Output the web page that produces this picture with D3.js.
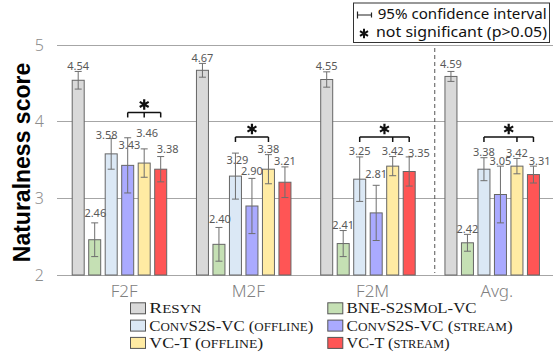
<!DOCTYPE html>
<html>
<head>
<meta charset="utf-8">
<script src="https://cdn.jsdelivr.net/npm/d3@7/dist/d3.min.js"></script>
<style>
  html, body { margin: 0; padding: 0; background: #fff; }
  svg { display: block; }
</style>
</head>
<body>
<svg id="chart" width="553" height="354"></svg>
<script>
// ---------------- data ----------------
const groups = ["F2F", "M2F", "F2M", "Avg."];
const seriesNames = ["Resyn", "BNE-S2SMoL-VC", "ConvS2S-VC (offline)", "ConvS2S-VC (stream)", "VC-T (offline)", "VC-T (stream)"];

const resyn       = [4.54, 4.67, 4.55, 4.59];
const bne         = [2.46, 2.40, 2.41, 2.42];
const convOffline = [3.58, 3.29, 3.25, 3.38];
const convStream  = [3.43, 2.90, 2.81, 3.05];
const vctOffline  = [3.46, 3.38, 3.42, 3.42];
const vctStream   = [3.38, 3.21, 3.35, 3.31];

// 95% confidence interval half widths
const resynCI       = [0.115, 0.09, 0.10, 0.065];
const bneCI         = [0.22, 0.22, 0.17, 0.11];
const convOfflineCI = [0.20, 0.30, 0.29, 0.15];
const convStreamCI  = [0.36, 0.36, 0.36, 0.37];
const vctOfflineCI  = [0.185, 0.19, 0.125, 0.10];
const vctStreamCI   = [0.165, 0.20, 0.19, 0.11];

// not-significant brackets: series indices per group, bracket level (score)
const sigSets   = [[3, 4, 5], [2, 4], [2, 4, 5], [2, 4, 5]];
const sigLevels = [4.12, 3.80, 3.80, 3.80];

const yTicks = [2, 3, 4, 5];

// ---------------- style / layout ----------------
const colors = ["#d9d9d9", "#c5e0b4", "#dbe8f5", "#aaaaff", "#ffeba3", "#ff5555"];
// legend text widths (to emulate the LaTeX small-caps font)
const legendTextWidths = [52, 130, 164, 166, 114, 103];
// manual nudges of data labels [dx, dy] keyed "group,series"
const labelNudge = {
  "0,1": [0.6, -4.5], "0,2": [-4.5, 1.5], "0,3": [1.8, 12.8], "0,4": [3, -10.5], "0,5": [7, -2.2],
  "1,1": [1, -2.5], "1,2": [2, 12.8], "1,3": [0, -2.2],
  "2,3": [0, -6], "2,5": [9.8, 1.5],
  "3,0": [0, -1.5], "3,5": [6.3, 0]
};

const values = [resyn, bne, convOffline, convStream, vctOffline, vctStream];
const cis = [resynCI, bneCI, convOfflineCI, convStreamCI, vctOfflineCI, vctStreamCI];

const svg = d3.select("#chart");
const plotLeft = 57, plotRight = 554, W = 553;

const x = d3.scaleBand().domain(groups).range([plotLeft, plotRight]);
const xi = d3.scaleBand().domain(d3.range(seriesNames.length)).range([14.7, 110.2]).paddingInner(0.212);
const y = d3.scaleLinear().domain([2, 5]).range([275, 45]);

// gridlines
svg.append("g").selectAll("line").data(yTicks).join("line")
  .attr("x1", plotLeft).attr("x2", W)
  .attr("y1", d => y(d)).attr("y2", d => y(d))
  .attr("stroke", "#a6a6a6").attr("stroke-width", 1).attr("shape-rendering", "crispEdges");

// y tick labels
svg.append("g").selectAll("text").data(yTicks).join("text")
  .attr("x", 44).attr("y", d => y(d)).attr("dy", "0.36em")
  .attr("text-anchor", "end")
  .style("font-family", "'Noto Sans', sans-serif").style("font-weight", 300)
  .style("font-size", "16px").attr("fill", "#8c8c8c")
  .text(d => d);

// y title
svg.append("text")
  .attr("transform", "translate(30,162.5) rotate(-90)")
  .attr("text-anchor", "middle")
  .style("font-family", "'Liberation Sans', Arial, sans-serif").style("font-weight", "bold")
  .style("font-size", "23px").attr("fill", "#000")
  .text("Naturalness score");

// flatten
const cells = [];
groups.forEach((g, gi) => {
  seriesNames.forEach((s, si) => {
    cells.push({ g, gi, si, v: values[si][gi], ci: cis[si][gi] });
  });
});
const bx = d => x(d.g) + xi(d.si);
const bw = xi.bandwidth();

// bars
svg.append("g").selectAll("rect").data(cells).join("rect")
  .attr("x", d => bx(d) + 0.5).attr("y", d => y(d.v))
  .attr("width", bw - 1).attr("height", d => y(2) - y(d.v))
  .attr("fill", d => colors[d.si]).attr("stroke", "#666").attr("stroke-width", 1);

// error bars
const eb = svg.append("g").attr("stroke", "#6e6e6e").attr("stroke-width", 1).attr("fill", "none");
cells.forEach(d => {
  const cx = bx(d) + bw / 2;
  const y1 = y(d.v + d.ci), y0 = y(d.v - d.ci);
  eb.append("line").attr("x1", cx).attr("x2", cx).attr("y1", y1).attr("y2", y0);
  eb.append("line").attr("x1", cx - 3.5).attr("x2", cx + 3.5).attr("y1", y1).attr("y2", y1);
  eb.append("line").attr("x1", cx - 3.5).attr("x2", cx + 3.5).attr("y1", y0).attr("y2", y0);
});

// value labels
svg.append("g").selectAll("text").data(cells).join("text")
  .attr("x", d => bx(d) + bw / 2 + (labelNudge[d.gi + "," + d.si] || [0, 0])[0])
  .attr("y", d => y(d.v + d.ci) - 1.5 + (labelNudge[d.gi + "," + d.si] || [0, 0])[1])
  .attr("text-anchor", "middle")
  .style("font-family", "'Noto Sans', sans-serif").style("font-size", "11px")
  .attr("fill", "#595959")
  .text(d => d.v.toFixed(2));

// dashed separator before the average group
svg.append("line")
  .attr("x1", x("Avg.") + 5).attr("x2", x("Avg.") + 5)
  .attr("y1", y(5) + 3).attr("y2", y(2) - 2)
  .attr("stroke", "#555").attr("stroke-width", 1).attr("stroke-dasharray", "4,3");

// significance brackets
const br = svg.append("g");
sigSets.forEach((set, gi) => {
  const g = groups[gi];
  const xs = set.map(si => x(g) + xi(si) + bw / 2);
  const yl = y(sigLevels[gi]);
  const x0 = d3.min(xs), x1 = d3.max(xs);
  br.append("line").attr("x1", x0).attr("x2", x1).attr("y1", yl).attr("y2", yl)
    .attr("stroke", "#111").attr("stroke-width", 1.5);
  xs.forEach(xx => {
    br.append("line").attr("x1", xx).attr("x2", xx).attr("y1", yl).attr("y2", yl + 5)
      .attr("stroke", "#111").attr("stroke-width", 1.5);
  });
  br.append("path")
    .attr("transform", `translate(${(x0 + x1) / 2},${yl - 8})`)
    .attr("d", d3.symbol(d3.symbolAsterisk, 75)())
    .attr("stroke", "#111").attr("stroke-width", 2.2).attr("fill", "none");
});

// category labels
svg.append("g").selectAll("text").data(groups).join("text")
  .attr("x", d => x(d) + x.bandwidth() / 2 + 5).attr("y", 296.7)
  .attr("text-anchor", "middle")
  .style("font-family", "'Noto Sans', sans-serif").style("font-weight", 300)
  .style("font-size", "17px").attr("fill", "#808080")
  .text(d => d);

// top legend box
const lg = svg.append("g");
lg.append("rect").attr("x", 353.5).attr("y", 3).attr("width", 196).attr("height", 39.5)
  .attr("fill", "#fff").attr("stroke", "#333").attr("stroke-width", 1);
lg.append("path").attr("d", "M357.5,11.5V18.5M357.5,15H371.5M371.5,12.5V17.5")
  .attr("stroke", "#222").attr("stroke-width", 1.2).attr("fill", "none");
lg.append("text").attr("x", 377.7).attr("y", 19.3)
  .style("font-family", "'Noto Sans', sans-serif").style("font-size", "14px").attr("fill", "#111")
  .attr("textLength", 169).attr("lengthAdjust", "spacingAndGlyphs")
  .text("95% confidence interval");
lg.append("path").attr("transform", "translate(364,33.5)")
  .attr("d", d3.symbol(d3.symbolAsterisk, 60)())
  .attr("stroke", "#111").attr("stroke-width", 2).attr("fill", "none");
lg.append("text").attr("x", 376).attr("y", 37)
  .style("font-family", "'Noto Sans', sans-serif").style("font-size", "14px").attr("fill", "#111")
  .attr("textLength", 171).attr("lengthAdjust", "spacingAndGlyphs")
  .text("not significant (p>0.05)");

// bottom legend (manual small caps: lowercase runs drawn as smaller capitals)
const legX = [130, 327.3];
const legY = [302.3, 319.6, 336.9];
const bl = svg.append("g");
seriesNames.forEach((s, i) => {
  const col = i % 2, row = Math.floor(i / 2);
  bl.append("rect").attr("x", legX[col] + 0.5).attr("y", legY[row] + 0.5).attr("width", 15).attr("height", 11)
    .attr("fill", colors[i]).attr("stroke", "#555").attr("stroke-width", 1);
  const t = bl.append("text").attr("x", legX[col] + 19.3).attr("y", legY[row] + 11)
    .style("font-family", "'Liberation Serif', serif").style("font-size", "15px")
    .attr("fill", "#1a1a1a")
    .attr("textLength", legendTextWidths[i]).attr("lengthAdjust", "spacingAndGlyphs");
  const runs = s.match(/[a-z]+|[^a-z]+/g);
  runs.forEach(r => {
    const lower = /^[a-z]+$/.test(r);
    t.append("tspan")
      .style("font-size", lower ? "11.6px" : "15px")
      .text(lower ? r.toUpperCase() : r);
  });
});
</script>
</body>
</html>
